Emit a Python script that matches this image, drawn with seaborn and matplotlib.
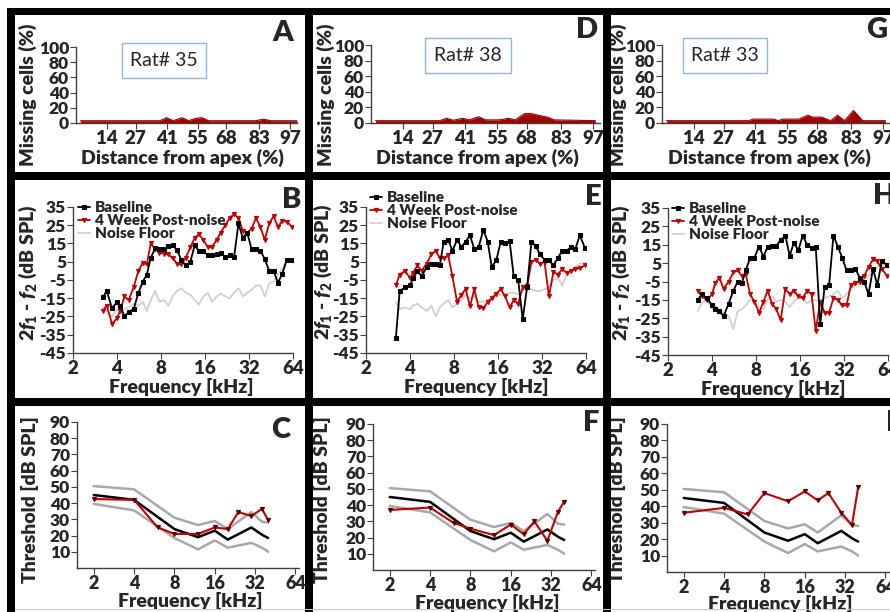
import matplotlib
matplotlib.use("Agg")
import matplotlib.pyplot as plt
import matplotlib.patches as mpatches
import seaborn as sns

# ---------------- data ----------------
rat_ids = ["Rat# 35", "Rat# 38", "Rat# 33"]

# row 1 : missing cells along the cochlea (%)
dist_ticks = [14, 27, 41, 55, 68, 83, 97]
dist_a = [2, 38, 41, 44, 48, 51, 54, 57, 60, 81, 85, 88, 100]
miss_a = [3, 3, 7, 3, 7, 3, 6, 7, 3, 3, 5, 3, 3]
dist_d = [2, 30, 33, 36, 40, 43, 47, 50, 56, 60, 63, 67, 70, 73, 77, 80, 98]
miss_d = [3, 3, 6, 3.5, 6, 4, 8, 4, 4, 6, 4, 12, 12, 10, 7.5, 4, 3]
dist_g = [2, 38, 40, 49, 51, 53, 60, 64, 66, 70, 74, 77, 80, 84, 88, 98]
miss_g = [3, 3, 5, 5, 3, 5, 5, 10, 7.5, 7.5, 3, 10, 3, 16, 3, 3]

# row 2 : DPOAE 2f1-f2 (dB SPL)
dp_freq = [3.2, 3.4, 3.7, 4.0, 4.2, 4.5, 4.8, 5.2, 5.6, 6.0, 6.4, 6.8, 7.3, 7.8,
           8.4, 9.0, 9.6, 10.3, 11.0, 11.8, 12.7, 13.6, 14.5, 15.6, 16.7, 17.9,
           19.2, 20.5, 22.0, 23.6, 25.3, 27.1, 29.0, 31.1, 33.3, 35.7, 38.3, 41.0,
           44.0, 47.1, 50.5, 54.1, 58.0, 63.0]
base_b = [-14.5, -11, -20.5, -17, -19, -25, -22.5, -21, -12, -6, -2, 7, 12.5, 12,
          12, 13.5, 14, 11.5, 6, 3, 5, 14, 11, 11, 8.5, 8.5, 9.5, 10, 7.5, 8.5,
          7.5, 26, 18, 21, 12, 12, 11, 6.5, 0, 0, -6.5, -1.5, 6, 6]
post_b = [-22, -19, -29, -26, -22, -14, -16, -9, 0, 4.5, 3.5, 15, 12, 10, 9.5, 9,
          7, 4, 3.5, 7, 13, 18, 20, 17, 13, 13, 17, 21, 25, 29, 31, 29, 22, 21,
          23, 29, 24, 17, 26, 30, 24, 27.5, 27, 24]
floor_b = [-20, -22, -25, -21, -23, -21, -20, -18, -19, -17, -22, -16, -11, -17,
           -16, -19, -14, -11, -9.5, -12, -13, -16, -18.5, -14, -12, -17, -14,
           -12.5, -14, -15, -12, -9.5, -14, -12, -10.5, -8, -8, -14, -7, -6, -2,
           1.5, 6, 6.5]
base_e = [-37, -11, -9, -8, -4, 0, -3, 2, 4, 4, 3, 16, 17, 11, 17, 13, 16, 19.5,
          12, 13, 22.5, 16, 2, 6, 16, 15, 16.5, -3, -5, -26.5, -9, 16, 13.5, 9,
          6, 6, 3, 7, 11, 11, 13, 12, 19.5, 12.5]
post_e = [-8, -2, 0, -4, -1, 3, 0, 4, 9, 11, 7, 7, 8.5, -3, -17, -13, -10, -19.5,
          -10, -20, -20.5, -17, -15, -12.5, -10, -14, -20, -16, -18, -9, -8.5, 5,
          6, 4, 5, -14, -0.5, -2, 1, -1, 0, 1, 1.5, 3]
floor_e = [-17, -21, -20, -21, -19, -18, -20, -22, -19, -25, -20, -18, -16, -20,
           -18, -16, -13, -15, -14, -17, -17, -16, -15, -14, -13, -13, -12, -12,
           -13, -11, -10, -10, -11, -11, -10, -9, -5, -4, -8, -2, 0, 2, 4, 4]
base_h = [-15, -12, -14, -18, -20, -21, -24, -17, -10, -5, -6, 1, 8, 8, 14, 8.5,
          14, 14.5, 14.5, 17.5, 20, 9, 16, 12, 20, 15, 13.5, 14, -28, -8, -7, 20,
          14, 8, 1, 1.5, 2, -3, -5, -12, 2, -7, 6, 4]
post_h = [-10, -13, -15, -12, -6, -3, -9, -5, 0, 1, -2, -1, -12, -16, -22, -16,
          -10, -17, -20, -26, -9, -12, -10, -13, -14, -10, -12, -32, -16, -22,
          -22, -14, -15, -18, -18, -7, -6, -5, -2, 3, 7, 6, 2, -2]
floor_h = [-21, -17, -14, -20, -18, -21, -22, -24, -31, -21, -20, -18, -15, -15,
           -19, -20, -15, -13, -16, -15, -16, -19, -16, -14, -14, -17, -15, -15,
           -16, -14, -13, -12, -10, -14, -12, -9, -7, -6, -4, -2, 1, 3, 4, 4]
dp_yticks = [35, 25, 15, 5, -5, -15, -25, -35, -45]

# row 3 : ABR thresholds (dB SPL)
abr_freq = [2, 4, 8, 12, 16, 20, 30, 36, 40]
abr_mean = [45, 42, 24, 19, 23, 17.5, 25, 20.5, 18.5]
abr_upper = [50.5, 48.5, 31, 26.5, 29, 24, 34.5, 28.5, 28]
abr_lower = [39.5, 35.5, 18.5, 11.5, 17, 12.5, 15.5, 12.5, 10]
post_freq = [2, 4, 6, 8, 12, 16, 20, 24, 30, 36, 40]
post_c = [42.5, 42, 25, 21, 21, 25, 24, 34.5, 32, 36.5, 29.5]
post_f = [37, 38.5, 29, 25.5, 21.5, 28, 22, 30, 18, 36, 42]
post_i = [36, 39, 35, 48, 43, 49, 43.5, 48, 36, 28.5, 51.5]
freq_ticks = [2, 4, 8, 16, 32, 64]

# ---------------- style ----------------
sns.set_style("ticks")
plt.rcParams["font.family"] = ["Lato", "DejaVu Sans"]
plt.rcParams["font.weight"] = "heavy"
plt.rcParams["axes.unicode_minus"] = False
plt.rcParams["mathtext.fontset"] = "custom"
plt.rcParams["mathtext.it"] = "Lato:italic:heavy"
plt.rcParams["mathtext.rm"] = "Lato:heavy"

RED = "#c00000"
FILL = "#a30000"
FLOOR = "#d0d0d0"
BAND = "#a8a8a8"
WT = "heavy"

W, H = 890, 612
fig = plt.figure(figsize=(W / 100, H / 100), dpi=100)


def box(x0, y0, x1, y1):
    return [x0 / W, 1 - y1 / H, (x1 - x0) / W, (y1 - y0) / H]


def style_axis(ax, xfs, yfs):
    sns.despine(ax=ax)
    for s in ("left", "bottom"):
        ax.spines[s].set_color("#404040")
        ax.spines[s].set_linewidth(1)
    ax.tick_params(length=4, width=0.8, pad=1, color="#404040")
    ax.tick_params(axis="x", labelsize=xfs)
    ax.tick_params(axis="y", labelsize=yfs)
    for t in ax.get_xticklabels() + ax.get_yticklabels():
        t.set_fontweight(WT)


def labels(ax, xl, xpos, yl, ypos, fs):
    ax.set_xlabel(xl, fontsize=fs, fontweight=WT, ha="center", va="center")
    ax.xaxis.set_label_coords(xpos[0] / W, 1 - xpos[1] / H, transform=fig.transFigure)
    ax.set_ylabel(yl, fontsize=fs, fontweight=WT, ha="center", va="center")
    ax.yaxis.set_label_coords(ypos[0] / W, 1 - ypos[1] / H, transform=fig.transFigure)


# ---------------- row 1 : missing cells ----------------
row1_boxes = [(76, 47, 297, 123), (371, 45, 600, 123), (662, 45, 890, 123)]
row1_x = [(182, 158), (477, 158), (769, 158)]
row1_y = [(28, 95), (326, 95), (618, 95)]
miss_sets = [(dist_a, miss_a), (dist_d, miss_d), (dist_g, miss_g)]
for i, (dd, mm) in enumerate(miss_sets):
    ax = fig.add_axes(box(*row1_boxes[i]))
    ax.fill_between(dd, 0, mm, color=FILL, lw=0)
    sns.lineplot(x=dd, y=mm, ax=ax, color=FILL, lw=0.8, estimator=None, sort=False)
    ax.set_xlim(0, 100)
    ax.set_ylim(0, 100)
    ax.set_xticks(dist_ticks)
    ax.set_yticks([0, 20, 40, 60, 80, 100])
    style_axis(ax, 13.5, 12.5)
    labels(ax, "Distance from apex (%)", row1_x[i], "Missing cells (%)", row1_y[i], 14)

# ---------------- row 2 : DPOAE ----------------
row2_boxes = [(73, 207, 293, 353), (366, 207, 586, 353), (668, 208, 888, 355)]
row2_x = [(181, 387), (476, 387), (773, 389)]
row2_y = [(28, 273), (323, 272), (621, 273)]
legend_pos = [(78, 201), (370, 191), (672, 202)]
dp_sets = [(base_b, post_b, floor_b), (base_e, post_e, floor_e), (base_h, post_h, floor_h)]
for i, (bb, pp, ff) in enumerate(dp_sets):
    ax = fig.add_axes(box(*row2_boxes[i]))
    sns.lineplot(x=dp_freq, y=bb, ax=ax, color="black", lw=1.3, marker="s", ms=3,
                 mec="black", estimator=None, sort=False, label="Baseline", zorder=3)
    sns.lineplot(x=dp_freq, y=pp, ax=ax, color=RED, lw=1.3, marker="v", ms=3,
                 mec=RED, estimator=None, sort=False, label="4 Week Post-noise", zorder=2)
    sns.lineplot(x=dp_freq, y=ff, ax=ax, color=FLOOR, lw=1.3, estimator=None,
                 sort=False, label="Noise Floor", zorder=1)
    ax.set_xscale("log", base=2)
    ax.set_xlim(2, 64)
    ax.set_ylim(-45, 35)
    ax.set_xticks(freq_ticks)
    ax.set_xticklabels([str(f) for f in freq_ticks])
    ax.minorticks_off()
    ax.set_yticks(dp_yticks)
    style_axis(ax, 13.5, 12.5)
    labels(ax, "Frequency [kHz]", row2_x[i], r"$2f_1$ - $f_2$ (dB SPL)", row2_y[i], 14)
    lx, ly = legend_pos[i]
    ax.legend(loc="upper left", bbox_to_anchor=(lx / W, 1 - ly / H),
              bbox_transform=fig.transFigure, frameon=False, borderpad=0,
              borderaxespad=0, handlelength=0.8, handletextpad=0.3,
              labelspacing=0.0, prop={"size": 11, "weight": WT})

# ---------------- row 3 : ABR thresholds ----------------
row3_boxes = [(77, 422, 299, 568), (373, 424, 595, 570), (667, 424, 889, 572)]
row3_x = [(190, 601), (487, 603), (780, 604)]
row3_y = [(30, 500), (322, 500), (617, 500)]
post_sets = [post_c, post_f, post_i]
for i, pp in enumerate(post_sets):
    ax = fig.add_axes(box(*row3_boxes[i]))
    sns.lineplot(x=abr_freq, y=abr_upper, ax=ax, color=BAND, lw=1.8, estimator=None, sort=False)
    sns.lineplot(x=abr_freq, y=abr_lower, ax=ax, color=BAND, lw=1.8, estimator=None, sort=False)
    sns.lineplot(x=abr_freq, y=abr_mean, ax=ax, color="black", lw=1.8, estimator=None, sort=False)
    sns.lineplot(x=post_freq, y=pp, ax=ax, color=RED, lw=1.5, marker="v", ms=3,
                 mec="#5a0000", mfc="#5a0000", estimator=None, sort=False)
    ax.set_xscale("log", base=2)
    ax.set_xlim(1.5, 68)
    ax.set_ylim(0, 90)
    ax.set_xticks(freq_ticks)
    ax.set_xticklabels([str(f) for f in freq_ticks])
    ax.minorticks_off()
    ax.set_yticks([10, 20, 30, 40, 50, 60, 70, 80, 90])
    style_axis(ax, 13, 12.5)
    labels(ax, "Frequency [kHz]", row3_x[i], "Threshold [dB SPL]", row3_y[i], 14)

# ---------------- panel letters and rat boxes ----------------
letter_pos = {"A": (283, 33), "D": (587, 30), "G": (877, 30),
              "B": (292, 200), "E": (593, 197), "H": (884, 196),
              "C": (281, 430), "F": (591, 423), "I": (890, 423)}
for name, (x, y) in letter_pos.items():
    fig.text(x / W, 1 - y / H, name, fontsize=21, fontweight=WT,
             ha="center", va="center")

rat_boxes = [(122, 43, 206, 78), (425, 38, 511, 73), (683, 38, 767, 73)]
for name, (x0, y0, x1, y1) in zip(rat_ids, rat_boxes):
    fig.add_artist(mpatches.Rectangle((x0 / W, 1 - y1 / H), (x1 - x0) / W, (y1 - y0) / H,
                                      transform=fig.transFigure, facecolor="white",
                                      edgecolor="#8fb4e3", lw=1))
    fig.text((x0 + x1) / 2 / W, 1 - (y0 + y1) / 2 / H, name, fontsize=14,
             fontweight="normal", ha="center", va="center")

# ---------------- thick panel frames ----------------
frames = [(7, 8, 890, 15), (7, 172, 890, 180), (7, 398, 890, 406),
          (7, 8, 15, 612), (305, 8, 313, 612), (603, 8, 611, 612)]
for x0, y0, x1, y1 in frames:
    fig.add_artist(mpatches.Rectangle((x0 / W, 1 - y1 / H), (x1 - x0) / W, (y1 - y0) / H,
                                      transform=fig.transFigure, facecolor="black",
                                      edgecolor="none", zorder=5))
fig.add_artist(mpatches.Rectangle((15 / W, 1 - 610 / H), (890 - 15) / W, 1.5 / H,
                                  transform=fig.transFigure, facecolor="#c8c8c8",
                                  edgecolor="none", zorder=5))

fig.savefig("out.png", dpi=100)
